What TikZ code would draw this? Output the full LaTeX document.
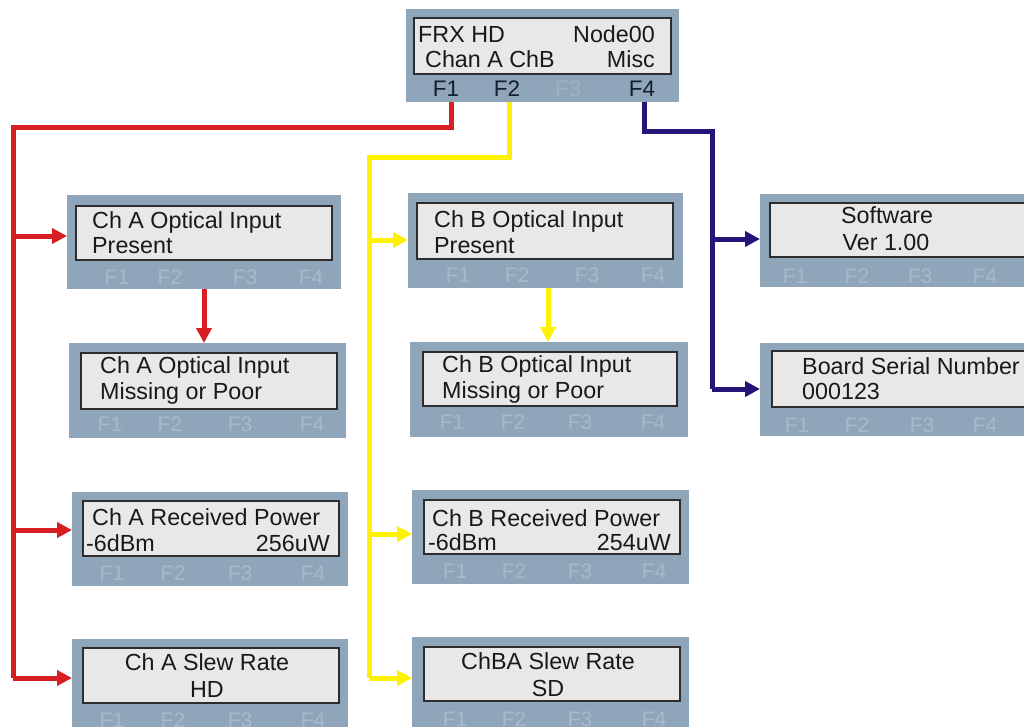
\documentclass[tikz,border=0pt]{standalone}
\usepackage{fontspec}
\setmainfont{Liberation Sans}
\usetikzlibrary{arrows.meta}
\definecolor{panelc}{RGB}{143,166,186}
\definecolor{screenc}{RGB}{232,232,232}
\definecolor{screenline}{RGB}{45,45,45}
\definecolor{txtc}{RGB}{25,25,25}
\definecolor{fkc}{RGB}{170,185,200}
\definecolor{fkdark}{RGB}{20,30,45}
\definecolor{fkmid}{RGB}{162,177,192}
\definecolor{redc}{RGB}{215,30,35}
\definecolor{yelc}{RGB}{255,242,0}
\definecolor{bluc}{RGB}{38,20,120}
\newcommand\lcdfont{\fontsize{23.3}{25}\selectfont}
\newcommand\fkfont{\fontsize{21}{24}\selectfont}
\newcommand\fktopfont{\fontsize{22.5}{24}\selectfont}
\tikzset{
  panel/.style={fill=panelc, draw=none, inner sep=0pt, outer sep=0pt, anchor=north west},
  screen/.style={fill=screenc, draw=screenline, line width=1.3pt, inner sep=0pt, outer sep=0pt, anchor=north west},
  txt/.style={inner sep=0pt, font=\lcdfont, text=txtc},
  fkey/.style={inner sep=0pt, font=\fkfont, text=fkc, anchor=base},
  fktop/.style={inner sep=0pt, font=\fktopfont, anchor=base},
  conn/.style={line width=5pt, -{Triangle[length=15pt,width=15pt]}},
  wire/.style={line width=5pt},
}
% outer panel: name, x1, y1, x2, y2 ; screen: x1,y1,x2,y2
\newcommand\lcdbox[9]{%
  \node[panel, minimum width={#4-#2}, minimum height={#5-#3}] (#1) at (#2,#3) {};
  \node[screen, minimum width={#8-#6}, minimum height={#9-#7}] (#1s) at (#6,#7) {};
}
\newcommand\fkeys[5]{% baseline, x F1..F4
  \node[fkey] at (#2,#1) {F1};
  \node[fkey] at (#3,#1) {F2};
  \node[fkey] at (#4,#1) {F3};
  \node[fkey] at (#5,#1) {F4};
}
\begin{document}
\begin{tikzpicture}[x=1pt,y=-1pt]
\useasboundingbox[fill=white] (0,0) rectangle (1024,726);
\clip (0,0) rectangle (1024,726);

% ---------- top box ----------
\lcdbox{top}{406}{9}{679}{102}{414}{18}{671}{74}
\node[txt, anchor=base west] (t1) at (418,42) {FRX HD};
\node[txt, anchor=base east] (t2) at (655,42) {Node00};
\node[txt, anchor=base west] (t3) at (425,67) {Chan A ChB};
\node[txt, anchor=base east] (t4) at (655,67) {Misc};
\node[fktop, text=fkdark] (tf1) at (446,96) {F1};
\node[fktop, text=fkdark] (tf2) at (507,96) {F2};
\node[fktop, text=fkmid]  (tf3) at (568,96) {F3};
\node[fktop, text=fkdark] (tf4) at (642,96) {F4};

% ---------- channel A column ----------
\lcdbox{a1}{67}{195}{341}{289}{76}{206}{332}{260}
\node[txt, anchor=base west] at (92,228) {Ch A Optical Input};
\node[txt, anchor=base west] at (92,253) {Present};
\fkeys{284}{117}{170}{245}{311}

\lcdbox{a2}{69}{343}{346}{438}{81}{353}{337}{409}
\node[txt, anchor=base west] at (100,373) {Ch A Optical Input};
\node[txt, anchor=base west] at (100,399) {Missing or Poor};
\fkeys{431}{110}{170}{240}{312}

\lcdbox{a3}{72}{492}{348}{586}{83}{501}{339}{556}
\node[txt, anchor=base west] at (92,525) {Ch A Received Power};
\node[txt, anchor=base west] at (86,551) {-6dBm};
\node[txt, anchor=base east] at (330,551) {256uW};
\fkeys{580}{112}{173}{240}{313}

\lcdbox{a4}{72}{639}{348}{740}{83}{648}{339}{703}
\node[txt, anchor=base] at (207,670) {Ch A Slew Rate};
\node[txt, anchor=base] at (207,697) {HD};
\fkeys{727}{112}{173}{240}{313}

% ---------- channel B column ----------
\lcdbox{b1}{408}{193}{683}{288}{417}{203}{673}{259}
\node[txt, anchor=base west] at (434,227) {Ch B Optical Input};
\node[txt, anchor=base west] at (434,253) {Present};
\fkeys{282}{458}{517}{587}{653}

\lcdbox{b2}{410}{342}{688}{437}{423}{352}{677}{406}
\node[txt, anchor=base west] at (442,372) {Ch B Optical Input};
\node[txt, anchor=base west] at (442,398) {Missing or Poor};
\fkeys{429}{452}{513}{580}{653}

\lcdbox{b3}{412}{490}{689}{584}{424}{500}{680}{554}
\node[txt, anchor=base west] at (432,526) {Ch B Received Power};
\node[txt, anchor=base west] at (428,550) {-6dBm};
\node[txt, anchor=base east] at (671,550) {254uW};
\fkeys{578}{455}{514}{580}{654}

\lcdbox{b4}{412}{637}{689}{740}{424}{647}{680}{701}
\node[txt, anchor=base] at (548,669) {ChBA Slew Rate};
\node[txt, anchor=base] at (548,696) {SD};
\fkeys{726}{455}{514}{580}{654}

% ---------- misc column ----------
\lcdbox{s1}{760}{194}{1040}{287}{770}{203}{1040}{257}
\node[txt, anchor=base] at (887,223) {Software};
\node[txt, anchor=base] at (886,250) {Ver 1.00};
\fkeys{283}{795}{857}{920}{985}

\lcdbox{s2}{760}{343}{1040}{436}{772}{351}{1040}{407}
\node[txt, anchor=base west] at (802,374) {Board Serial Number};
\node[txt, anchor=base west] at (802,399) {000123};
\fkeys{432}{797}{857}{922}{985}

% ---------- connectors ----------
\coordinate (rA) at (13,127);
\coordinate (rB) at (13,236);
\coordinate (rC) at (13,530);
\coordinate (rD) at (13,678);
\coordinate (yA) at (369,157);
\coordinate (yB) at (369,240);
\coordinate (yC) at (369,534);
\coordinate (yD) at (369,678);
\coordinate (bA) at (712,131);
\coordinate (bB) at (712,239);
\coordinate (bC) at (712,389);

\draw[wire, redc, line join=miter] (top.south -| 451,0) |- (rA) -- (rD);
\draw[conn, redc] (rD) -- (rD -| a4.west);
\draw[conn, redc] (rB) -- (rB -| a1.west);
\draw[conn, redc] (rC) -- (rC -| a3.west);
\draw[conn, redc] (a1.south -| 204,0) -- (a2.north -| 204,0);

\draw[wire, yelc, line join=miter] (top.south -| 509,0) |- (yA) -- (yD);
\draw[conn, yelc] (yD) -- (yD -| b4.west);
\draw[conn, yelc] (yB) -- (yB -| b1.west);
\draw[conn, yelc] (yC) -- (yC -| b3.west);
\draw[conn, yelc] (b1.south -| 548,0) -- (b2.north -| 548,0);

\draw[wire, bluc, line join=miter] (top.south -| 644,0) |- (bA) -- (bC);
\draw[conn, bluc] (bC) -- (bC -| s2.west);
\draw[conn, bluc] (bB) -- (bB -| s1.west);
\end{tikzpicture}
\end{document}
